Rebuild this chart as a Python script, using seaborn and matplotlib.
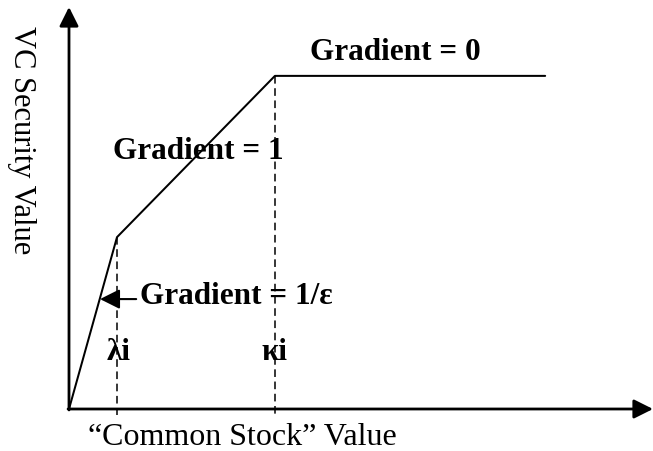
import numpy as np
import pandas as pd
from matplotlib import pyplot as plt
import seaborn as sns

# payoff kinks (abstract units, origin at 0)
x_points = [0.0, 1.0, 4.29, 9.92]
y_points = [0.0, 3.58, 6.94, 6.94]
lam_x = x_points[1]
kap_x = x_points[2]

x_label = "\u201cCommon Stock\u201d Value"
y_label = "VC Security Value"

sns.set_style("white")
plt.rcParams['font.family'] = ['Liberation Serif', 'DejaVu Serif']
plt.rcParams['text.color'] = 'black'

fig = plt.figure(figsize=(6.53, 4.51), dpi=100)
ax = fig.add_axes([0, 0, 1, 1])
ax.set_xlim(-69 / 48, 584 / 48)
ax.set_ylim(-42 / 48, 409 / 48)
ax.axis('off')

df = pd.DataFrame({'x': x_points, 'y': y_points})
sns.lineplot(data=df, x='x', y='y', color='black', linewidth=1.45, sort=False, ax=ax)

# dashed markers for lambda and kappa
ax.plot([lam_x, lam_x], [y_points[1], -0.125], color='black', lw=1.1, linestyle=(0, (5, 3)))
ax.plot([kap_x, kap_x], [y_points[2], -0.17], color='black', lw=1.1, linestyle=(0, (5, 3)))

# axes with arrow heads
arrow = dict(arrowstyle='-|>,head_length=0.58,head_width=0.29', color='black', lw=2,
             mutation_scale=20, shrinkA=0, shrinkB=0)
ax.annotate('', xy=(584 / 48, 0), xytext=(-0.02, 0), arrowprops=arrow)
ax.annotate('', xy=(0, 402 / 48), xytext=(0, -0.02), arrowprops=arrow)

bold = dict(fontsize=22.5, fontweight='bold', va='baseline', ha='left')
ax.text(5.02, 7.27, "Gradient = 0", **bold)
ax.text(0.917, 5.21, "Gradient = 1", **bold)
ax.text(1.48, 2.19, "Gradient = 1/\u03b5", **bold)
ax.text(0.79, 1.02, "\u03bbi", **bold)
ax.text(4.02, 1.02, "\u03bai", **bold)

small = dict(arrowstyle='-|>,head_length=0.6,head_width=0.3', color='black', lw=1.5,
             mutation_scale=20, shrinkA=0, shrinkB=0)
ax.annotate('', xy=(0.646, 2.29), xytext=(1.40, 2.29), arrowprops=small)

ax.text(-0.98, 5.60, y_label, fontsize=22, rotation=-90, ha='center', va='center')
ax.text(0.396, -0.75, x_label, fontsize=23, ha='left', va='baseline')

plt.savefig("out.png", dpi=100)
